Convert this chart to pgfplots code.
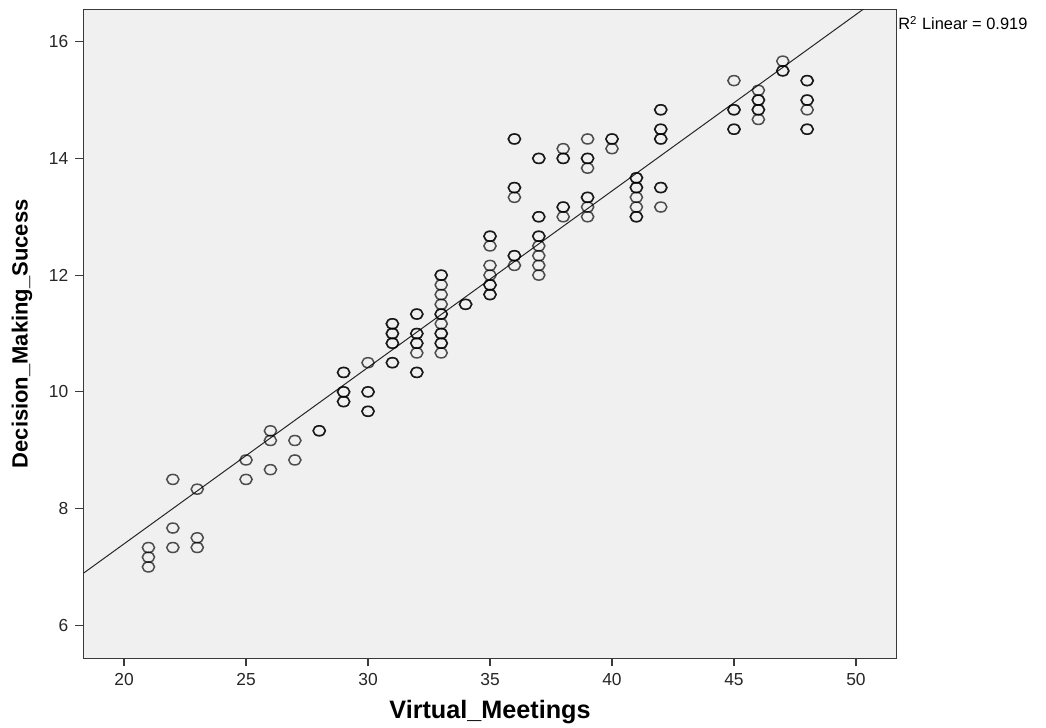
\documentclass[border=0pt]{standalone}
\usepackage{fontspec}
\setmainfont{Liberation Sans}[BoldFont={Liberation Sans Bold}]
\usepackage{pgfplots}
\pgfplotsset{compat=1.18}
\definecolor{bg}{HTML}{F0F0F0}
\definecolor{fr}{HTML}{3A3A3A}
\newcommand{\xlblfont}{\fontsize{12.6}{14}\selectfont\bfseries}
\newcommand{\ylblfont}{\fontsize{11}{13}\selectfont\bfseries}
\begin{document}
\begin{tikzpicture}
\begin{axis}[name=ax, scale only axis, width=406.7pt, height=324.5pt,
 xmin=18.33, xmax=51.67, ymin=5.435, ymax=16.555,
 xtick={20,25,...,50}, ytick={6,8,...,16},
 axis background/.style={fill=bg},
 axis line style={fr, line width=0.6pt},
 tick align=outside, xtick pos=bottom, ytick pos=left,
 major tick length=4pt, tick style={fr, line width=0.6pt},
 /pgf/number format/assume math mode=true,
 ticklabel style={font=\fontsize{8.7}{10}\selectfont, text=black!85},
 xlabel={Virtual\_Meetings}, ylabel={Decision\_Making\_Sucess},
 every axis x label/.style={at={(axis description cs:0.5,-0.0827)}, anchor=center, font=\xlblfont},
 every axis y label/.style={at={(axis description cs:-0.0754,0.5)}, rotate=90, anchor=center, font=\ylblfont}]
\addplot[no marks, color=black!85, line width=0.5pt] coordinates {(18.33,6.891) (52,17.07)};
\addplot[only marks, mark=o, mark size=2.5pt, mark options={xscale=1.22, draw=black, draw opacity=0.68, line width=0.75pt}] table {
x y
21 7.333
21 7.167
21 7.0
22 8.5
22 7.667
22 7.333
23 8.333
23 7.5
23 7.333
25 8.833
25 8.5
26 9.333
26 9.167
26 8.667
27 9.167
27 8.833
28 9.333
28 9.333
29 10.333
29 10.333
29 10.0
29 10.0
29 9.833
29 9.833
30 10.5
30 10.0
30 10.0
30 9.667
30 9.667
31 11.167
31 11.167
31 11.0
31 11.0
31 10.833
31 10.833
31 10.5
31 10.5
32 11.333
32 11.333
32 11.0
32 11.0
32 10.833
32 10.833
32 10.667
32 10.333
32 10.333
33 12.0
33 12.0
33 11.833
33 11.667
33 11.5
33 11.333
33 11.333
33 11.167
33 11.0
33 11.0
33 10.833
33 10.833
33 10.667
34 11.5
34 11.5
35 12.667
35 12.667
35 12.5
35 12.167
35 12.0
35 11.833
35 11.833
35 11.667
35 11.667
36 14.333
36 14.333
36 13.5
36 13.5
36 13.333
36 12.333
36 12.333
36 12.167
37 14.0
37 14.0
37 13.0
37 13.0
37 12.667
37 12.667
37 12.5
37 12.333
37 12.167
37 12.0
38 14.167
38 14.0
38 14.0
38 13.167
38 13.167
38 13.0
39 14.333
39 14.0
39 14.0
39 13.833
39 13.333
39 13.333
39 13.167
39 13.0
40 14.333
40 14.333
40 14.167
41 13.667
41 13.667
41 13.5
41 13.5
41 13.333
41 13.167
41 13.0
41 13.0
42 14.833
42 14.833
42 14.5
42 14.5
42 14.333
42 14.333
42 13.5
42 13.5
42 13.167
45 15.333
45 14.833
45 14.833
45 14.5
45 14.5
46 15.167
46 15.0
46 15.0
46 14.833
46 14.833
46 14.667
47 15.667
47 15.5
47 15.5
48 15.333
48 15.333
48 15.0
48 15.0
48 14.833
48 14.5
48 14.5
};
\end{axis}
\node[anchor=west, inner sep=0pt, font=\fontsize{8.2}{10}\selectfont] at ([xshift=0.6pt, yshift=-6.85pt]ax.north east) {R\textsuperscript{2} Linear = 0.919};
\pgfresetboundingbox
\path ([shift={(-41.65pt,-34.85pt)}]ax.south west) rectangle ([shift={(74.65pt,4.65pt)}]ax.north east);
\end{tikzpicture}
\end{document}
